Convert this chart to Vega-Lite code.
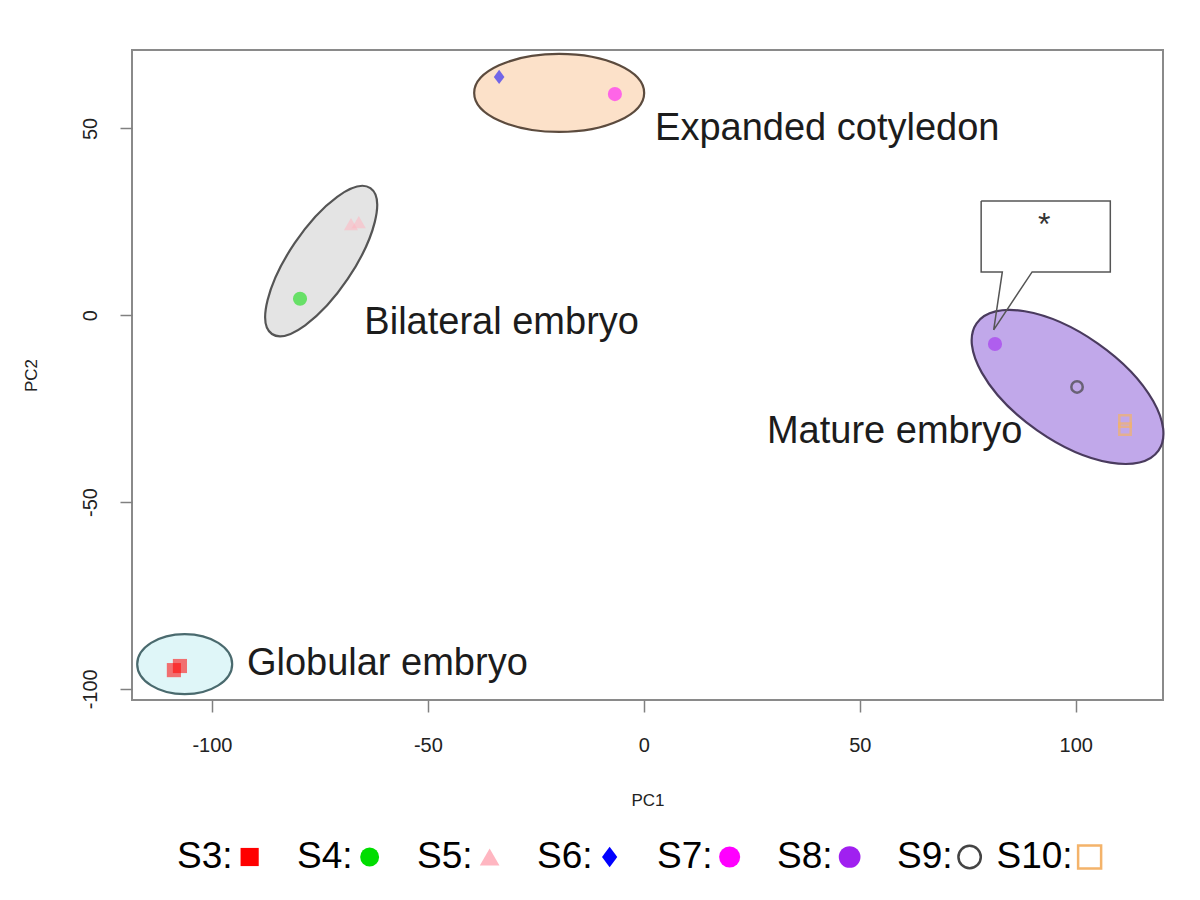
{
  "$schema": "https://vega.github.io/schema/vega-lite/v6.json",
  "background": "white",
  "padding": {"left": 21, "top": 48, "right": 10, "bottom": 10},
  "bounds": "flush",
  "spacing": 137,
  "config": {
    "font": "Liberation Sans",
    "view": {"stroke": "#8a8a8a", "strokeWidth": 2}
  },
  "datasets": {
    "points": [
      {"series": "S3", "pc1": -108.8, "pc2": -95.0},
      {"series": "S3", "pc1": -107.4, "pc2": -93.9},
      {"series": "S4", "pc1": -79.6, "pc2": 4.4},
      {"series": "S5", "pc1": -67.8, "pc2": 24.4},
      {"series": "S5", "pc1": -66.0, "pc2": 24.9},
      {"series": "S6", "pc1": -33.5, "pc2": 63.8},
      {"series": "S7", "pc1": -6.7, "pc2": 59.2},
      {"series": "S8", "pc1": 81.3, "pc2": -7.7},
      {"series": "S9", "pc1": 100.3, "pc2": -19.2},
      {"series": "S10", "pc1": 111.4, "pc2": -28.3},
      {"series": "S10", "pc1": 111.4, "pc2": -30.5}
    ],
    "ellipses": [
      {"group": "Expanded cotyledon", "pc1": -19.6, "pc2": 59.5},
      {"group": "Bilateral embryo", "pc1": -74.7, "pc2": 14.5},
      {"group": "Mature embryo", "pc1": 98.1, "pc2": -19.2},
      {"group": "Globular embryo", "pc1": -106.3, "pc2": -93.4}
    ],
    "labels": [
      {"text": "Expanded cotyledon", "pc1": 2.6, "pc2": 46.9},
      {"text": "Bilateral embryo", "pc1": -64.7, "pc2": -5.0},
      {"text": "Mature embryo", "pc1": 28.5, "pc2": -34.3},
      {"text": "Globular embryo", "pc1": -91.9, "pc2": -96.3}
    ],
    "star": [
      {"text": "*", "pc1": 92.7, "pc2": 21.4}
    ],
    "callout": [
      {"i": 0, "pc1": 78.1, "pc2": 30.6},
      {"i": 1, "pc1": 108.0, "pc2": 30.6},
      {"i": 2, "pc1": 108.0, "pc2": 11.6},
      {"i": 3, "pc1": 89.9, "pc2": 11.6},
      {"i": 4, "pc1": 81.0, "pc2": -3.9},
      {"i": 5, "pc1": 83.0, "pc2": 11.6},
      {"i": 6, "pc1": 78.1, "pc2": 11.6},
      {"i": 7, "pc1": 78.1, "pc2": 30.6}
    ],
    "legend": [
      {"series": "S3", "label": "S3:"},
      {"series": "S4", "label": "S4:"},
      {"series": "S5", "label": "S5:"},
      {"series": "S6", "label": "S6:"},
      {"series": "S7", "label": "S7:"},
      {"series": "S8", "label": "S8:"},
      {"series": "S9", "label": "S9:"},
      {"series": "S10", "label": "S10:"}
    ]
  },
  "vconcat": [
    {
      "width": 1031,
      "height": 650,
      "encoding": {
        "x": {
          "field": "pc1", "type": "quantitative",
          "scale": {"domain": [-118.5, 120.2], "zero": false, "nice": false},
          "axis": {
            "title": "PC1", "values": [-100, -50, 0, 50, 100],
            "labelExpr": "'' + datum.value",
            "grid": false, "domain": false,
            "tickSize": 12, "tickColor": "#808080", "tickWidth": 1.5,
            "labelFontSize": 20, "labelColor": "#222222", "labelPadding": 23,
            "labelFont": "Liberation Sans",
            "titleFont": "Liberation Sans", "titleFontSize": 17, "titleFontWeight": "normal",
            "titleColor": "#222222", "titlePadding": 37
          }
        },
        "y": {
          "field": "pc2", "type": "quantitative",
          "scale": {"domain": [-103, 71], "zero": false, "nice": false},
          "axis": {
            "title": "PC2", "values": [-100, -50, 0, 50, 100],
            "labelExpr": "'' + datum.value",
            "grid": false, "domain": false,
            "tickSize": 12, "tickColor": "#808080", "tickWidth": 1.5,
            "labelAngle": -90, "labelAlign": "center", "labelBaseline": "bottom",
            "labelFontSize": 20, "labelColor": "#222222", "labelPadding": 20,
            "labelFont": "Liberation Sans",
            "titleFont": "Liberation Sans", "titleFontSize": 17, "titleFontWeight": "normal",
            "titleColor": "#222222", "titlePadding": 40
          }
        }
      },
      "layer": [
        {
          "data": {"name": "ellipses"},
          "transform": [{"filter": "datum.group === 'Expanded cotyledon'"}],
          "mark": {
            "type": "point", "filled": true, "opacity": 1,
            "shape": "M 1 0 C 1 0.2535 0.5523 0.459 0 0.459 C -0.5523 0.459 -1 0.2535 -1 0 C -1 -0.2535 -0.5523 -0.459 0 -0.459 C 0.5523 -0.459 1 -0.2535 1 0 Z",
            "size": 28900, "angle": 0,
            "fill": "#FCE1C9", "stroke": "#5C4B3E", "strokeWidth": 2.2
          },
          "encoding": {}
        },
        {
          "data": {"name": "ellipses"},
          "transform": [{"filter": "datum.group === 'Bilateral embryo'"}],
          "mark": {
            "type": "point", "filled": true, "opacity": 1,
            "shape": "M 1 0 C 1 0.201 0.5523 0.364 0 0.364 C -0.5523 0.364 -1 0.201 -1 0 C -1 -0.201 -0.5523 -0.364 0 -0.364 C 0.5523 -0.364 1 -0.201 1 0 Z",
            "size": 30976, "angle": -56,
            "fill": "#E4E4E4", "stroke": "#555555", "strokeWidth": 2.2
          },
          "encoding": {}
        },
        {
          "data": {"name": "ellipses"},
          "transform": [{"filter": "datum.group === 'Mature embryo'"}],
          "mark": {
            "type": "point", "filled": true, "opacity": 1,
            "shape": "M 1 0 C 1 0.2634 0.5523 0.477 0 0.477 C -0.5523 0.477 -1 0.2634 -1 0 C -1 -0.2634 -0.5523 -0.477 0 -0.477 C 0.5523 -0.477 1 -0.2634 1 0 Z",
            "size": 49284, "angle": 35,
            "fill": "#C1A8EA", "stroke": "#4A3B5E", "strokeWidth": 2.2
          },
          "encoding": {}
        },
        {
          "data": {"name": "ellipses"},
          "transform": [{"filter": "datum.group === 'Globular embryo'"}],
          "mark": {
            "type": "point", "filled": true, "opacity": 1,
            "shape": "M 1 0 C 1 0.349 0.5523 0.632 0 0.632 C -0.5523 0.632 -1 0.349 -1 0 C -1 -0.349 -0.5523 -0.632 0 -0.632 C 0.5523 -0.632 1 -0.349 1 0 Z",
            "size": 9025, "angle": 0,
            "fill": "#DFF6F8", "stroke": "#4A6A6E", "strokeWidth": 2.2
          },
          "encoding": {}
        },
        {
          "data": {"name": "points"},
          "transform": [{"filter": "datum.series !== 'S9' && datum.series !== 'S10'"}],
          "mark": {"type": "point", "filled": true, "opacity": 0.55, "size": 200},
          "encoding": {
            "shape": {
              "field": "series", "type": "nominal", "legend": null,
              "scale": {
                "domain": ["S3", "S4", "S5", "S6", "S7", "S8", "S9", "S10"],
                "range": ["square", "circle", "triangle-up", "M 0 -1 L 0.75 0 L 0 1 L -0.75 0 Z", "circle", "circle", "circle", "square"]
              }
            },
            "color": {
              "field": "series", "type": "nominal", "legend": null,
              "scale": {
                "domain": ["S3", "S4", "S5", "S6", "S7", "S8", "S9", "S10"],
                "range": ["#FF0000", "#00DD00", "#FFB6C1", "#0000FF", "#FF00FF", "#A020F0", "#444444", "#F4B36A"]
              }
            }
          }
        },
        {
          "data": {"name": "points"},
          "transform": [{"filter": "datum.series === 'S9' || datum.series === 'S10'"}],
          "mark": {"type": "point", "filled": false, "opacity": 0.7, "size": 130, "strokeWidth": 2.5},
          "encoding": {
            "shape": {"field": "series", "type": "nominal", "legend": null},
            "color": {"field": "series", "type": "nominal", "legend": null}
          }
        },
        {
          "data": {"name": "labels"},
          "mark": {"type": "text", "align": "left", "baseline": "alphabetic", "fontSize": 38, "font": "Liberation Sans", "color": "#1c1c1c"},
          "encoding": {"text": {"field": "text"}}
        },
        {
          "data": {"name": "callout"},
          "mark": {"type": "line", "color": "#555555", "strokeWidth": 1.5, "strokeJoin": "miter"},
          "encoding": {"order": {"field": "i", "type": "quantitative"}}
        },
        {
          "data": {"name": "star"},
          "mark": {"type": "text", "align": "center", "baseline": "alphabetic", "fontSize": 32, "font": "Liberation Sans", "color": "#333333"},
          "encoding": {"text": {"field": "text"}}
        }
      ]
    },
    {
      "width": 1031,
      "height": 40,
      "view": {"stroke": null},
      "data": {"name": "legend"},
      "encoding": {
        "x": {
          "field": "series", "type": "nominal", "sort": null,
          "scale": {"type": "band", "domain": ["S3", "S4", "S5", "S6", "S7", "S8", "S9", "S10"], "paddingInner": 0, "paddingOuter": 0.296, "align": 0.53},
          "axis": null
        }
      },
      "layer": [
        {
          "mark": {"type": "text", "align": "right", "baseline": "middle", "dx": 3, "fontSize": 37, "font": "Liberation Sans", "color": "#000000"},
          "encoding": {"text": {"field": "label"}}
        },
        {
          "transform": [{"filter": "datum.series !== 'S9' && datum.series !== 'S10'"}],
          "mark": {"type": "point", "filled": true, "opacity": 1, "xOffset": 20},
          "encoding": {
            "shape": {"field": "series", "type": "nominal", "legend": null},
            "color": {"field": "series", "type": "nominal", "legend": null},
            "size": {
              "field": "series", "type": "nominal", "legend": null,
              "scale": {"domain": ["S3", "S4", "S5", "S6", "S7", "S8", "S9", "S10"], "range": [330, 529, 420, 640, 676, 400, 324, 440]}
            }
          }
        },
        {
          "transform": [{"filter": "datum.series === 'S9' || datum.series === 'S10'"}],
          "mark": {"type": "point", "filled": false, "opacity": 1, "strokeWidth": 2.5, "xOffset": 20},
          "encoding": {
            "shape": {"field": "series", "type": "nominal", "legend": null},
            "color": {"field": "series", "type": "nominal", "legend": null},
            "size": {"field": "series", "type": "nominal", "legend": null}
          }
        }
      ]
    }
  ]
}
